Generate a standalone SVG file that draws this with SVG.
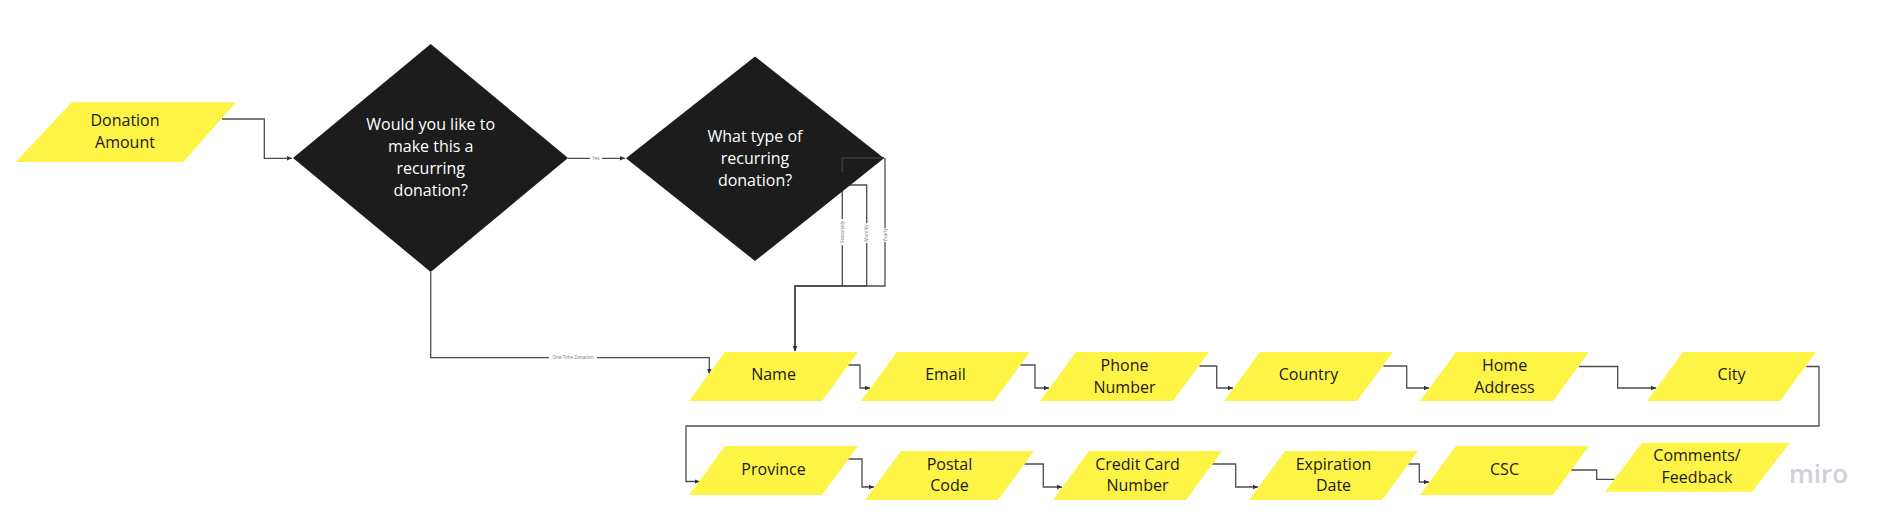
<svg xmlns="http://www.w3.org/2000/svg" width="1893" height="528" viewBox="0 0 1893 528">
<style>
.io{fill:#fef445;}
.dec{fill:#1c1c1c;}
.t{font-family:"Open Sans","Noto Sans","Liberation Sans",sans-serif;font-size:16px;text-anchor:middle;fill:#1a1a1a;}
.tw{font-family:"Open Sans","Noto Sans","Liberation Sans",sans-serif;font-size:16px;text-anchor:middle;fill:#ffffff;}
.c{fill:none;stroke:#4d4d4d;stroke-width:1.3;}
.lbl{font-family:"Open Sans","Noto Sans","Liberation Sans",sans-serif;font-size:4.5px;text-anchor:middle;fill:#777;}
.lb{fill:#fff;}
</style>
<defs>
<marker id="ah" markerWidth="6" markerHeight="6" refX="5" refY="3" orient="auto" markerUnits="userSpaceOnUse">
<path d="M0,0.8 L5,3 L0,5.2 z" fill="#333"/>
</marker>
</defs>
<rect width="1893" height="528" fill="#ffffff"/>

<g id="connectors">
<polyline class="c" points="222,119 264.3,119 264.3,158.3 292,158.3" stroke="#6b6b6b" marker-end="url(#ah)"/>
<polyline class="c" points="568,158.3 625,158.3" stroke="#777" marker-end="url(#ah)"/>
<rect class="lb" x="590" y="155.8" width="12" height="5"/>
<text class="lbl" x="596" y="159.8">Yes</text>
<polyline class="c" points="430.7,272 430.7,357.7 709.3,357.7 709.3,374" marker-end="url(#ah)"/>
<rect class="lb" x="549" y="355.2" width="48" height="5"/>
<text class="lbl" x="573" y="359.2">One-Time Donation</text>
<polyline class="c" points="885,158 885,286 795,286 795,351" stroke="#bdbdbd" marker-end="url(#ah)"/>
<polyline class="c" points="849,185 866.7,185 866.7,286 795,286 795,351" stroke="#333" marker-end="url(#ah)"/>
<polyline class="c" points="884,158 842.3,158 842.3,286 795,286 795,351" stroke="#555" stroke-width="1.6" marker-end="url(#ah)"/>
<rect class="lb" x="840" y="219" width="4.6" height="26"/>
<text class="lbl" transform="translate(843.9,232) rotate(-90)">Seasonally</text>
<rect class="lb" x="864.4" y="223" width="4.6" height="20"/>
<text class="lbl" transform="translate(868.3,233) rotate(-90)">Monthly</text>
<rect class="lb" x="882.7" y="228" width="4.6" height="14"/>
<text class="lbl" transform="translate(886.6,235) rotate(-90)">Yearly</text>
<polyline class="c" points="848.4,365 860,365 860,388 870,388" marker-end="url(#ah)"/>
<polyline class="c" points="1020.4,365 1035,365 1035,388 1049,388" marker-end="url(#ah)"/>
<polyline class="c" points="1199.4,366 1216.7,366 1216.7,388 1233,388" marker-end="url(#ah)"/>
<polyline class="c" points="1383.4,366 1406.7,366 1406.7,388 1429,388" marker-end="url(#ah)"/>
<polyline class="c" points="1579,366.5 1617.7,366.5 1617.7,388 1656,388" marker-end="url(#ah)"/>
<polyline class="c" points="1806.4,366.5 1819,366.5 1819,426 686,426 686,481.5 699.5,481.5" stroke="#333" marker-end="url(#ah)"/>
<polyline class="c" points="848.4,459 862,459 862,487 874,487" marker-end="url(#ah)"/>
<polyline class="c" points="1024.4,464 1043.3,464 1043.3,487 1062,487" marker-end="url(#ah)"/>
<polyline class="c" points="1212.4,464 1235.7,464 1235.7,487 1258,487" marker-end="url(#ah)"/>
<polyline class="c" points="1408.4,464 1419.3,464 1419.3,482 1429,482" marker-end="url(#ah)"/>
<polyline class="c" points="1571,470 1596.7,470 1596.7,479.3 1615,479.3" stroke="#b3b3b3" stroke-width="1.1"/>
</g>

<g id="donation-amount">
<polygon class="io" points="15.7,162 183.3,162 236,102.3 71.7,102.3"/>
<text class="t" x="125" y="126">Donation</text>
<text class="t" x="125" y="147.5">Amount</text>
</g>

<g id="recurring-question">
<polygon class="dec" points="293,158 430.7,44 568,158 430.7,272"/>
<text class="tw" x="430.7" y="129.5">Would you like to</text>
<text class="tw" x="430.7" y="151.5">make this a</text>
<text class="tw" x="430.7" y="173.5">recurring</text>
<text class="tw" x="430.7" y="195.5">donation?</text>
</g>

<g id="recurring-type">
<polygon class="dec" points="626,158.3 755,56.5 884,158.3 755,261"/>
<text class="tw" x="755" y="141.5">What type of</text>
<text class="tw" x="755" y="163.5">recurring</text>
<text class="tw" x="755" y="185.5">donation?</text>
</g>
<path d="M884,158 L842.3,158 L842.3,172" fill="none" stroke="#3a3a3a" stroke-width="1.6"/>

<g id="name">
<polygon class="io" points="689,401 822,401 858,352 725,352"/>
<text class="t" x="773.5" y="380">Name</text>
</g>
<g id="email">
<polygon class="io" points="861,401 994,401 1030,352 897,352"/>
<text class="t" x="945.5" y="380">Email</text>
</g>
<g id="phone-number">
<polygon class="io" points="1040,401 1173,401 1209,352 1076,352"/>
<text class="t" x="1124.5" y="371">Phone</text>
<text class="t" x="1124.5" y="393">Number</text>
</g>
<g id="country">
<polygon class="io" points="1224,401 1357,401 1393,352 1260,352"/>
<text class="t" x="1308.5" y="380">Country</text>
</g>
<g id="home-address">
<polygon class="io" points="1420,401 1553,401 1589,352 1456,352"/>
<text class="t" x="1504.5" y="371">Home</text>
<text class="t" x="1504.5" y="393">Address</text>
</g>
<g id="city">
<polygon class="io" points="1647,401 1780,401 1816,352 1683,352"/>
<text class="t" x="1731.5" y="380">City</text>
</g>

<g id="province">
<polygon class="io" points="689,495 822,495 858,446 725,446"/>
<text class="t" x="773.5" y="475">Province</text>
</g>
<g id="postal-code">
<polygon class="io" points="865,500 998,500 1034,451 901,451"/>
<text class="t" x="949.5" y="469.5">Postal</text>
<text class="t" x="949.5" y="491">Code</text>
</g>
<g id="credit-card-number">
<polygon class="io" points="1053,500 1186,500 1222,451 1089,451"/>
<text class="t" x="1137.5" y="469.5">Credit Card</text>
<text class="t" x="1137.5" y="491">Number</text>
</g>
<g id="expiration-date">
<polygon class="io" points="1249,500 1382,500 1418,451 1285,451"/>
<text class="t" x="1333.5" y="469.5">Expiration</text>
<text class="t" x="1333.5" y="491">Date</text>
</g>
<g id="csc">
<polygon class="io" points="1420,495 1553,495 1589,446 1456,446"/>
<text class="t" x="1504.5" y="475">CSC</text>
</g>
<g id="comments-feedback">
<polygon class="io" points="1605,491.7 1752,491.7 1790,442.7 1642,442.7"/>
<text class="t" x="1697" y="461">Comments/</text>
<text class="t" x="1697" y="482.5">Feedback</text>
</g>

<text x="1818.5" y="483.3" font-family="'Open Sans','Noto Sans',sans-serif" font-size="26" font-weight="600" fill="#d0d0da" text-anchor="middle">miro</text>
</svg>
